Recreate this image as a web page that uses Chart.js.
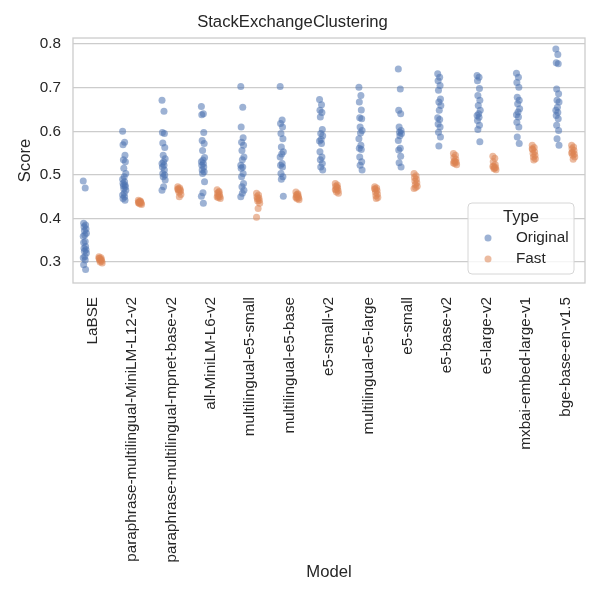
<!DOCTYPE html>
<html>
<head>
<meta charset="utf-8">
<script src="https://cdn.jsdelivr.net/npm/chart.js"></script>
<style>
  html, body { margin: 0; padding: 0; background: #fff; }
  canvas { display: block; }
</style>
</head>
<body>
<canvas id="strip" width="600" height="600"></canvas>
<script>
const models = [
  "LaBSE",
  "paraphrase-multilingual-MiniLM-L12-v2",
  "paraphrase-multilingual-mpnet-base-v2",
  "all-MiniLM-L6-v2",
  "multilingual-e5-small",
  "multilingual-e5-base",
  "e5-small-v2",
  "multilingual-e5-large",
  "e5-small",
  "e5-base-v2",
  "e5-large-v2",
  "mxbai-embed-large-v1",
  "bge-base-en-v1.5"
];

// scores per model, Original type
const originalScores = [
  [0.486, 0.470, 0.389, 0.385, 0.381, 0.376, 0.372, 0.366, 0.362, 0.359, 0.347, 0.345, 0.336, 0.332, 0.328, 0.325, 0.321, 0.313, 0.310, 0.305, 0.294, 0.283],
  [0.600, 0.575, 0.569, 0.545, 0.535, 0.530, 0.515, 0.503, 0.496, 0.490, 0.484, 0.480, 0.477, 0.475, 0.473, 0.468, 0.465, 0.458, 0.454, 0.450, 0.446, 0.442],
  [0.671, 0.646, 0.597, 0.595, 0.573, 0.563, 0.545, 0.537, 0.530, 0.526, 0.522, 0.518, 0.511, 0.503, 0.500, 0.496, 0.488, 0.473, 0.465],
  [0.657, 0.640, 0.638, 0.597, 0.579, 0.572, 0.556, 0.540, 0.534, 0.530, 0.526, 0.522, 0.518, 0.511, 0.507, 0.503, 0.484, 0.459, 0.451, 0.435],
  [0.703, 0.655, 0.610, 0.585, 0.575, 0.568, 0.556, 0.541, 0.535, 0.522, 0.518, 0.515, 0.503, 0.496, 0.480, 0.473, 0.465, 0.458, 0.450],
  [0.703, 0.626, 0.618, 0.610, 0.595, 0.583, 0.564, 0.553, 0.548, 0.541, 0.526, 0.522, 0.518, 0.503, 0.496, 0.490, 0.451],
  [0.673, 0.661, 0.648, 0.643, 0.633, 0.604, 0.595, 0.590, 0.581, 0.578, 0.572, 0.553, 0.541, 0.535, 0.526, 0.518, 0.511],
  [0.701, 0.682, 0.667, 0.649, 0.631, 0.629, 0.610, 0.602, 0.596, 0.583, 0.568, 0.561, 0.558, 0.541, 0.530, 0.522, 0.511],
  [0.743, 0.697, 0.648, 0.640, 0.610, 0.602, 0.598, 0.595, 0.590, 0.579, 0.561, 0.557, 0.543, 0.528, 0.518],
  [0.732, 0.724, 0.716, 0.705, 0.694, 0.674, 0.667, 0.659, 0.648, 0.631, 0.627, 0.617, 0.610, 0.598, 0.587, 0.566],
  [0.728, 0.724, 0.716, 0.698, 0.682, 0.671, 0.659, 0.648, 0.640, 0.636, 0.632, 0.625, 0.614, 0.604, 0.576],
  [0.733, 0.724, 0.712, 0.701, 0.678, 0.671, 0.663, 0.652, 0.644, 0.638, 0.633, 0.621, 0.610, 0.587, 0.572],
  [0.789, 0.776, 0.757, 0.755, 0.697, 0.686, 0.671, 0.667, 0.655, 0.648, 0.643, 0.636, 0.629, 0.614, 0.602, 0.583, 0.568]
];

// scores per model, Fast type
const fastScores = [
  [0.312, 0.310, 0.308, 0.306, 0.304, 0.302, 0.300, 0.298, 0.305, 0.309],
  [0.442, 0.440, 0.438, 0.437, 0.436, 0.435, 0.434, 0.432, 0.439, 0.436],
  [0.473, 0.470, 0.468, 0.466, 0.465, 0.463, 0.460, 0.455, 0.450, 0.467],
  [0.466, 0.462, 0.458, 0.455, 0.452, 0.450, 0.448, 0.446, 0.460, 0.449],
  [0.458, 0.454, 0.450, 0.447, 0.445, 0.442, 0.440, 0.435, 0.423, 0.403],
  [0.461, 0.457, 0.454, 0.451, 0.449, 0.447, 0.445, 0.443, 0.455, 0.448],
  [0.480, 0.477, 0.474, 0.470, 0.467, 0.464, 0.461, 0.458, 0.472, 0.466],
  [0.473, 0.470, 0.467, 0.464, 0.460, 0.456, 0.452, 0.448, 0.446, 0.468],
  [0.503, 0.498, 0.494, 0.490, 0.486, 0.482, 0.478, 0.474, 0.471, 0.469],
  [0.549, 0.545, 0.540, 0.536, 0.532, 0.529, 0.526, 0.523, 0.530, 0.527],
  [0.543, 0.538, 0.530, 0.524, 0.520, 0.517, 0.514, 0.512, 0.516, 0.519],
  [0.568, 0.563, 0.558, 0.553, 0.549, 0.545, 0.541, 0.537, 0.534, 0.560],
  [0.568, 0.564, 0.560, 0.556, 0.552, 0.548, 0.545, 0.541, 0.536, 0.550]
];

const yTicks = [0.3, 0.4, 0.5, 0.6, 0.7, 0.8];

const blue = "rgba(76, 114, 176, 0.55)";
const orange = "rgba(221, 132, 82, 0.55)";
const textColor = "#262626";
const fontFamily = "'Liberation Sans', Arial, sans-serif";

// small fixed jitter so points in a strip don't sit on one line
const jitter = (j) => ((((j * 5) % 9) / 8) - 0.5) * 0.08;

const toPoints = (groups, dodge) =>
  groups.flatMap((vals, i) => vals.map((v, j) => ({ x: i + dodge + jitter(j), y: v })));

const frameAndLegend = {
  id: "frameAndLegend",
  beforeDatasetsDraw(chart) {
    const { ctx, chartArea: a } = chart;
    ctx.save();
    ctx.strokeStyle = "#cccccc";
    ctx.lineWidth = 1.3;
    ctx.strokeRect(a.left, a.top, a.right - a.left, a.bottom - a.top);
    ctx.restore();
  },
  afterDraw(chart) {
    const { ctx, chartArea: a } = chart;
    const w = 106, h = 71;
    const x0 = a.right - 117, y0 = a.bottom - 80;
    ctx.save();
    ctx.beginPath();
    ctx.roundRect(x0, y0, w, h, 4);
    ctx.fillStyle = "rgba(255,255,255,0.8)";
    ctx.fill();
    ctx.strokeStyle = "#d6d6d6";
    ctx.lineWidth = 1;
    ctx.stroke();

    ctx.fillStyle = textColor;
    ctx.textBaseline = "middle";
    ctx.textAlign = "center";
    ctx.font = "16.67px " + fontFamily;
    ctx.fillText("Type", x0 + w / 2, y0 + 14);

    const items = [["Original", blue], ["Fast", orange]];
    ctx.font = "15.28px " + fontFamily;
    ctx.textAlign = "left";
    items.forEach(([label, color], k) => {
      const yy = y0 + 35 + k * 21;
      ctx.beginPath();
      ctx.arc(x0 + 20, yy, 3.5, 0, Math.PI * 2);
      ctx.fillStyle = color;
      ctx.fill();
      ctx.fillStyle = textColor;
      ctx.fillText(label, x0 + 48, yy);
    });
    ctx.restore();
  }
};

new Chart(document.getElementById("strip").getContext("2d"), {
  type: "scatter",
  data: {
    datasets: [
      {
        label: "Original",
        data: toPoints(originalScores, -0.2),
        backgroundColor: blue,
        borderWidth: 0,
        pointRadius: 3.5,
        pointHoverRadius: 3.5
      },
      {
        label: "Fast",
        data: toPoints(fastScores, 0.2),
        backgroundColor: orange,
        borderWidth: 0,
        pointRadius: 3.5,
        pointHoverRadius: 3.5
      }
    ]
  },
  options: {
    responsive: false,
    animation: false,
    devicePixelRatio: 1,
    layout: { padding: { left: 0, right: 15, top: 0, bottom: 0 } },
    plugins: {
      legend: { display: false },
      tooltip: { enabled: false },
      title: {
        display: true,
        text: "StackExchangeClustering",
        color: textColor,
        font: { family: fontFamily, size: 16.67, weight: "normal" },
        padding: { top: 12, bottom: 6 }
      }
    },
    scales: {
      x: {
        type: "linear",
        min: -0.5,
        max: models.length - 0.5,
        afterBuildTicks(scale) {
          scale.ticks = models.map((_, i) => ({ value: i }));
        },
        afterFit(scale) {
          scale.height = 317;
        },
        ticks: {
          autoSkip: false,
          minRotation: 90,
          maxRotation: 90,
          padding: 14,
          color: textColor,
          font: { family: fontFamily, size: 15.28 },
          callback: (v) => models[v]
        },
        grid: { display: false, drawTicks: false },
        border: { display: false },
        title: {
          display: true,
          text: "Model",
          color: textColor,
          font: { family: fontFamily, size: 16.67 },
          padding: { top: 4, bottom: 18 }
        }
      },
      y: {
        min: 0.252,
        max: 0.814,
        afterBuildTicks(scale) {
          scale.ticks = yTicks.map((v) => ({ value: v }));
        },
        afterFit(scale) {
          scale.width = 73;
        },
        ticks: {
          padding: 12,
          color: textColor,
          font: { family: fontFamily, size: 15.28 },
          callback: (v) => v.toFixed(1)
        },
        grid: { color: "#cccccc", lineWidth: 1.3, drawTicks: false },
        border: { display: false },
        title: {
          display: true,
          text: "Score",
          color: textColor,
          font: { family: fontFamily, size: 16.67 },
          padding: { top: 15, bottom: 4 }
        }
      }
    }
  },
  plugins: [frameAndLegend]
});
</script>
</body>
</html>
